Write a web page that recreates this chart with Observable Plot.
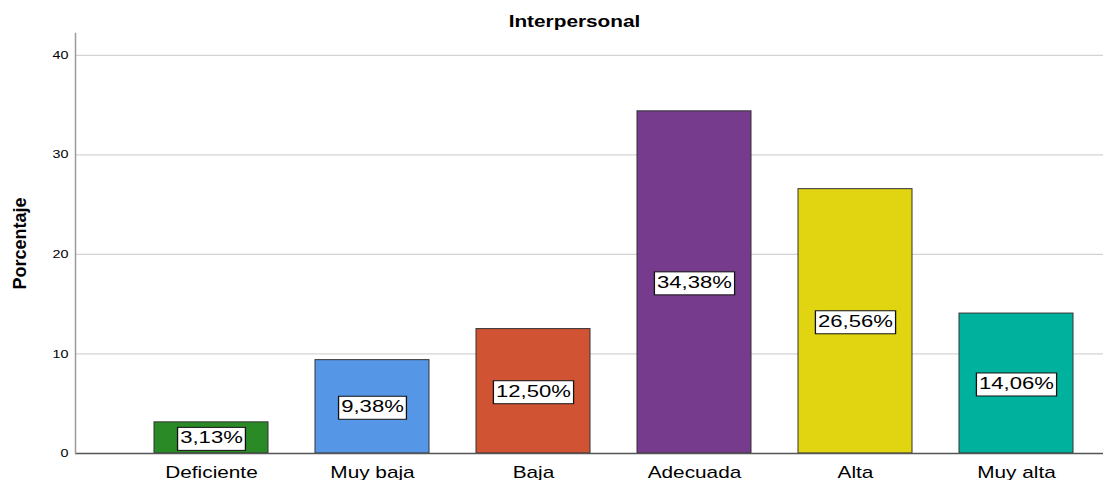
<!DOCTYPE html>
<html>
<head>
<meta charset="utf-8">
<script src="https://cdn.jsdelivr.net/npm/d3@7"></script>
<script src="https://cdn.jsdelivr.net/npm/@observablehq/plot@0.6"></script>
<style>
  html, body { margin: 0; padding: 0; background: #fff; }
  svg { font-family: "Liberation Sans", Arial, sans-serif; }
</style>
</head>
<body>
<div id="chart"></div>
<script>
const title = "Interpersonal";
const yLabel = "Porcentaje";
const categories = ["Deficiente", "Muy baja", "Baja", "Adecuada", "Alta", "Muy alta"];
const values = [3.13, 9.38, 12.50, 34.38, 26.56, 14.06];
const labels = ["3,13%", "9,38%", "12,50%", "34,38%", "26,56%", "14,06%"];
const colors = ["#2a8a26", "#5596e6", "#d05434", "#773b8e", "#e1d512", "#00b29e"];
const yTicks = [0, 10, 20, 30, 40];

const data = categories.map((c, i) => ({category: c, value: values[i], label: labels[i], color: colors[i]}));
const STRETCH = 1.3;

const chart = Plot.plot({
  width: 1103,
  height: 480,
  marginLeft: 75,
  marginRight: 0,
  marginTop: 33,
  marginBottom: 27,
  style: {fontFamily: "'Liberation Sans', Arial, sans-serif", color: "#000", background: "#fff"},
  x: {domain: categories, paddingInner: 0.293, paddingOuter: 0.335, align: 0.722, label: null},
  y: {domain: [0, 42.2], label: null},
  marks: [
    Plot.gridY(yTicks.filter(t => t > 0), {stroke: "#d4d4d4", strokeOpacity: 1, strokeWidth: 1.3}),
    Plot.barY(data, {x: "category", y: "value", fill: "color", stroke: "#333", strokeWidth: 1}),
    Plot.ruleY([0], {stroke: "#555", strokeWidth: 1.3}),
    Plot.frame({anchor: "left", stroke: "#9a9a9a", strokeWidth: 1.5}),
    Plot.axisX({tickSize: 0, tickPadding: 13, fontSize: 16, label: null}),
    Plot.axisY({ticks: yTicks, tickSize: 0, tickPadding: 7, fontSize: 11, label: null}),
    Plot.text(data, {x: "category", y: d => d.value / 2, text: "label", fontSize: 17, fill: "#000"}),
    Plot.text([title], {frameAnchor: "top", lineAnchor: "middle", dy: -12, dx: -15, fontWeight: "bold", fontSize: 16, fill: "#000"}),
    Plot.text([yLabel], {frameAnchor: "left", textAnchor: "middle", lineAnchor: "middle", rotate: -90, dx: -55, fontWeight: "bold", fontSize: 18, fill: "#000"})
  ]
});

document.getElementById("chart").appendChild(chart);

// Horizontal stretch of texts and boxes behind the value labels
const labelSet = new Set(labels);
chart.querySelectorAll("text").forEach(t => {
  const txt = t.textContent;
  if (txt === yLabel) return;
  const bb = t.getBBox();
  const anchor = t.getAttribute("text-anchor") || getComputedStyle(t).textAnchor;
  let cx = bb.x + bb.width / 2;
  if (anchor === "end") cx = bb.x + bb.width;
  else if (anchor === "start") cx = bb.x;
  const tr = (t.getAttribute("transform") || "") + ` translate(${cx},0) scale(${STRETCH},1) translate(${-cx},0)`;
  t.setAttribute("transform", tr.trim());
  if (labelSet.has(txt)) {
    const rect = document.createElementNS("http://www.w3.org/2000/svg", "rect");
    const px = 2, py = 3;
    rect.setAttribute("x", bb.x - px);
    rect.setAttribute("y", bb.y - py + 2);
    rect.setAttribute("width", bb.width + 2 * px);
    rect.setAttribute("height", bb.height + 2 * py - 2);
    rect.setAttribute("fill", "#fff");
    rect.setAttribute("stroke", "#111");
    rect.setAttribute("stroke-width", 1);
    rect.setAttribute("transform", tr.trim());
    t.parentNode.insertBefore(rect, t);
  }
});
</script>
</body>
</html>
